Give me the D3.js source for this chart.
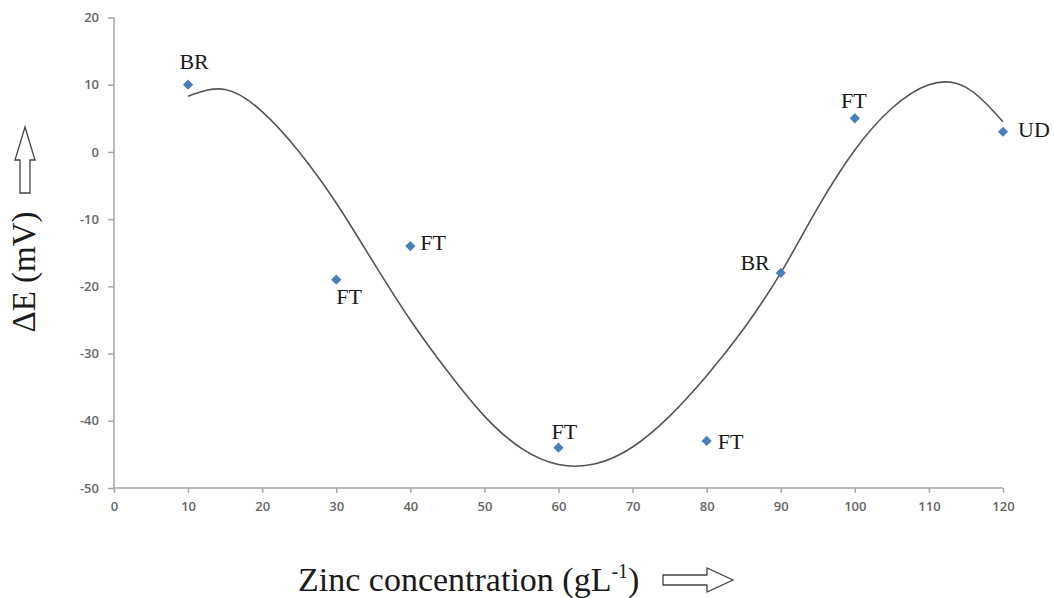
<!DOCTYPE html>
<html>
<head>
<meta charset="utf-8">
<script src="https://cdn.jsdelivr.net/npm/d3@7"></script>
<style>
  body { margin: 0; background: #fff; }
  svg { display: block; }
  .axis path, .axis line { stroke: #a6a6a6; stroke-width: 1.5; }
  .axis text { font-family: "Open Sans", sans-serif; font-size: 13px; font-weight: 600; fill: #666; }
  .pt-label { font-family: "Liberation Serif", "Times New Roman", serif; font-size: 22px; fill: #1a1a1a; }
  .title { font-family: "Liberation Serif", "Times New Roman", serif; fill: #1a1a1a; }
</style>
</head>
<body>
<svg width="1054" height="598"></svg>
<script>
// measured points
const zincConc = [10, 30, 40, 60, 80, 90, 100, 120];
const deltaE = [10, -19, -14, -44, -43, -18, 5, 3];
const pointLabels = ["BR", "FT", "FT", "FT", "FT", "BR", "FT", "UD"];

// trend line, every 5 gL-1
const trendX = [10, 15, 20, 25, 30, 35, 40, 45, 50, 55, 60, 65, 70, 75, 80, 85, 90, 95, 100, 105, 110, 115, 120];
const trendY = [8.3, 9.3, 6.0, 0.0, -7.6, -16.4, -25.0, -32.6, -39.3, -44.1, -46.5, -46.4, -43.9, -39.3, -33.3, -26.3, -18.0, -8.3, 0.3, 6.5, 10.0, 9.6, 4.5];

const xTicks = [0, 10, 20, 30, 40, 50, 60, 70, 80, 90, 100, 110, 120];
const yTicks = [-50, -40, -30, -20, -10, 0, 10, 20];

const svg = d3.select("svg");

const x = d3.scaleLinear().domain([0, 120]).range([114, 1003]);
const y = d3.scaleLinear().domain([-50, 20]).range([488, 17.5]);

// axes
svg.append("g")
  .attr("class", "axis")
  .attr("transform", "translate(114,0)")
  .call(d3.axisLeft(y).tickValues(yTicks).tickSize(6).tickPadding(9).tickFormat(d => String(d)))
  .call(g => g.select(".domain").attr("d", `M0,${y(20)}V${y(-50)}`));

svg.append("g")
  .attr("class", "axis")
  .attr("transform", "translate(0,488)")
  .call(d3.axisBottom(x).tickValues(xTicks).tickSize(5).tickPadding(9).tickFormat(d => String(d)))
  .call(g => g.select(".domain").attr("d", `M${x(0)},0H${x(120)}`));

// trend curve
const trend = trendX.map((v, i) => [v, trendY[i]]);
svg.append("path")
  .datum(trend)
  .attr("fill", "none")
  .attr("stroke", "#555")
  .attr("stroke-width", 1.6)
  .attr("d", d3.line().x(d => x(d[0])).y(d => y(d[1])).curve(d3.curveNatural));

// points
const pts = zincConc.map((v, i) => ({ x: v, y: deltaE[i], label: pointLabels[i] }));

svg.append("g").selectAll("path")
  .data(pts)
  .join("path")
  .attr("d", d3.symbol(d3.symbolSquare, 52)())
  .attr("transform", d => `translate(${x(d.x)},${y(d.y)}) rotate(45)`)
  .attr("fill", "#4a7ebb");

// label placement around each marker: [dx, dy, anchor]
const labelPlacement = [
  [6, -16, "middle"], [0, 24, "start"], [10, 4, "start"], [-7, -9, "start"],
  [11, 8, "start"], [-11, -3, "end"], [-1, -10, "middle"], [15, 5, "start"]
];

svg.append("g").selectAll("text")
  .data(pts)
  .join("text")
  .attr("class", "pt-label")
  .attr("x", (d, i) => x(d.x) + labelPlacement[i][0])
  .attr("y", (d, i) => y(d.y) + labelPlacement[i][1])
  .attr("text-anchor", (d, i) => labelPlacement[i][2])
  .text(d => d.label);

// axis titles
const xt = svg.append("text")
  .attr("class", "title")
  .attr("x", 298)
  .attr("y", 591)
  .attr("font-size", 34);
xt.append("tspan").text("Zinc concentration (gL");
xt.append("tspan").attr("font-size", 20).attr("dy", -13).text("-1");
xt.append("tspan").attr("dy", 13).text(")");

svg.append("text")
  .attr("class", "title")
  .attr("font-size", 33)
  .attr("text-anchor", "middle")
  .attr("transform", "translate(35,272) rotate(-90)")
  .text("ΔE (mV)");

// hollow arrows next to titles
svg.append("path")
  .attr("d", "M25,127 L35,160 L30,160 L30,193 L20,193 L20,160 L15,160 Z")
  .attr("fill", "#fff")
  .attr("stroke", "#444")
  .attr("stroke-width", 1.3);

svg.append("path")
  .attr("d", "M663,575 L707,575 L707,568 L733,580 L707,592 L707,585 L663,585 Z")
  .attr("fill", "#fff")
  .attr("stroke", "#444")
  .attr("stroke-width", 1.3);
</script>
</body>
</html>
